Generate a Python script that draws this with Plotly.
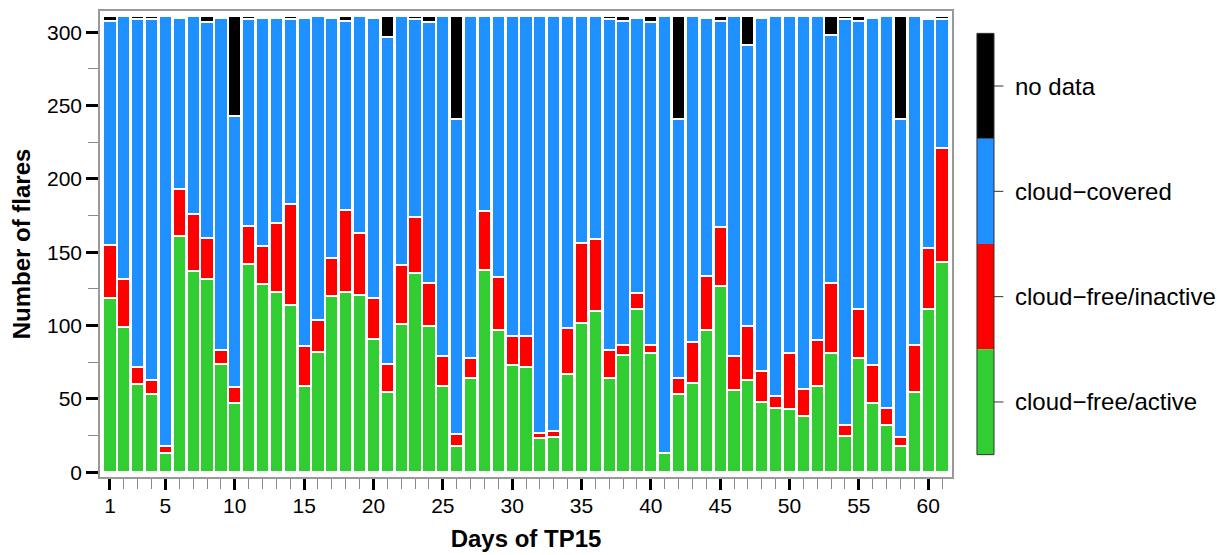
import plotly.graph_objects as go

days = list(range(1, 62))

cloud_free_active = [119, 99, 60, 53, 13, 161, 137, 132, 74, 47,
                     142, 128, 123, 114, 59, 82, 120, 123, 121, 91,
                     55, 101, 136, 100, 59, 18, 64, 138, 97, 73,
                     72, 23, 24, 67, 102, 110, 64, 80, 111, 81,
                     13, 53, 61, 97, 127, 56, 63, 48, 44, 43,
                     38, 59, 81, 25, 78, 47, 32, 18, 55, 111, 143]

cloud_free_inactive = [36, 33, 12, 10, 5, 32, 39, 28, 9, 11,
                       26, 26, 47, 69, 27, 22, 26, 56, 42, 28,
                       19, 40, 38, 29, 20, 8, 14, 40, 36, 20,
                       21, 4, 4, 31, 54, 49, 19, 7, 11, 6,
                       0, 11, 28, 37, 40, 23, 37, 21, 8, 38,
                       19, 31, 48, 7, 33, 26, 12, 6, 32, 42, 78]

cloud_covered = [153, 179, 237, 246, 293, 117, 135, 147, 227, 185,
                 141, 156, 140, 126, 224, 207, 164, 129, 148, 191,
                 223, 170, 135, 178, 232, 215, 233, 133, 178, 218,
                 218, 284, 283, 213, 155, 152, 226, 221, 188, 220,
                 298, 177, 222, 176, 141, 232, 191, 241, 259, 230,
                 254, 221, 169, 277, 197, 237, 267, 217, 224, 156, 88]

no_data = [3, 0, 2, 2, 0, 0, 0, 4, 0, 68,
           2, 0, 0, 2, 0, 0, 0, 3, 0, 0,
           14, 0, 2, 4, 0, 70, 0, 0, 0, 0,
           0, 0, 0, 0, 0, 0, 2, 3, 0, 4,
           0, 70, 0, 0, 3, 0, 20, 0, 0, 0,
           0, 0, 13, 2, 3, 0, 0, 70, 0, 0, 2]

x_tick_vals = [1, 5, 10, 15, 20, 25, 30, 35, 40, 45, 50, 55, 60]
y_tick_vals = [0, 50, 100, 150, 200, 250, 300]

series = [
    ("cloud\u2212free/active", cloud_free_active, "#32CD32"),
    ("cloud\u2212free/inactive", cloud_free_inactive, "#FF0000"),
    ("cloud\u2212covered", cloud_covered, "#1E90FF"),
    ("no data", no_data, "#000000"),
]

FONT = "Arial, Liberation Sans, sans-serif"

fig = go.Figure()
for name, vals, color in series:
    fig.add_trace(go.Bar(
        x=days,
        y=[v if v > 0 else None for v in vals],
        name=name,
        marker=dict(color=color, line=dict(color="white", width=2)),
        showlegend=False,
    ))

# Legend drawn as a colour key on the right
key_top, key_bottom = 0.952, 0.048
seg = (key_top - key_bottom) / 4
key_x0, key_x1 = 1.0293, 1.0493
for i, (name, vals, color) in enumerate(reversed(series)):
    y1 = key_top - i * seg
    y0 = y1 - seg
    fig.add_shape(type="rect", xref="paper", yref="paper",
                  x0=key_x0, x1=key_x1, y0=y0, y1=y1,
                  fillcolor=color, line=dict(width=0))
    ym = (y0 + y1) / 2
    fig.add_shape(type="line", xref="paper", yref="paper",
                  x0=key_x1, x1=key_x1 + 0.011, y0=ym, y1=ym,
                  line=dict(color="#333333", width=1))
    fig.add_annotation(xref="paper", yref="paper", x=key_x1 + 0.0225, y=ym,
                       text=name, showarrow=False, xanchor="left", yanchor="middle",
                       font=dict(family=FONT, size=24, color="black"))
fig.add_shape(type="rect", xref="paper", yref="paper",
              x0=key_x0, x1=key_x1, y0=key_bottom, y1=key_top,
              line=dict(color="#333333", width=1), fillcolor="rgba(0,0,0,0)")

fig.update_layout(
    barmode="stack",
    bargap=0.05,
    width=1220, height=547,
    margin=dict(l=92, r=276, t=1, b=78),
    plot_bgcolor="white",
    paper_bgcolor="white",
    font=dict(family=FONT, size=21, color="black"),
    xaxis=dict(
        range=[0.28, 61.72],
        tickmode="array", tickvals=x_tick_vals,
        ticks="outside", ticklen=11, tickwidth=3, tickcolor="black",
        minor=dict(tickmode="linear", tick0=1, dtick=1, ticks="outside",
                   ticklen=10, tickwidth=1, tickcolor="#888888"),
        showline=True, mirror=True, linecolor="#999999", linewidth=1.5,
        showgrid=False, zeroline=False,
        tickfont=dict(size=21),
        ticklabelstandoff=-2,
        title=dict(text="<b>Days of TP15</b>", font=dict(size=24), standoff=14),
    ),
    yaxis=dict(
        range=[-3.3, 314.5],
        tickmode="array", tickvals=y_tick_vals,
        ticks="outside", ticklen=12, tickwidth=3, tickcolor="black",
        minor=dict(tickmode="linear", tick0=0, dtick=25, ticks="outside",
                   ticklen=10, tickwidth=1, tickcolor="#888888"),
        showline=True, mirror=True, linecolor="#999999", linewidth=1.5,
        showgrid=False, zeroline=False,
        tickfont=dict(size=21),
        title=dict(text="<b>Number of flares</b>", font=dict(size=24), standoff=10),
    ),
)

fig.write_html("out.html")
